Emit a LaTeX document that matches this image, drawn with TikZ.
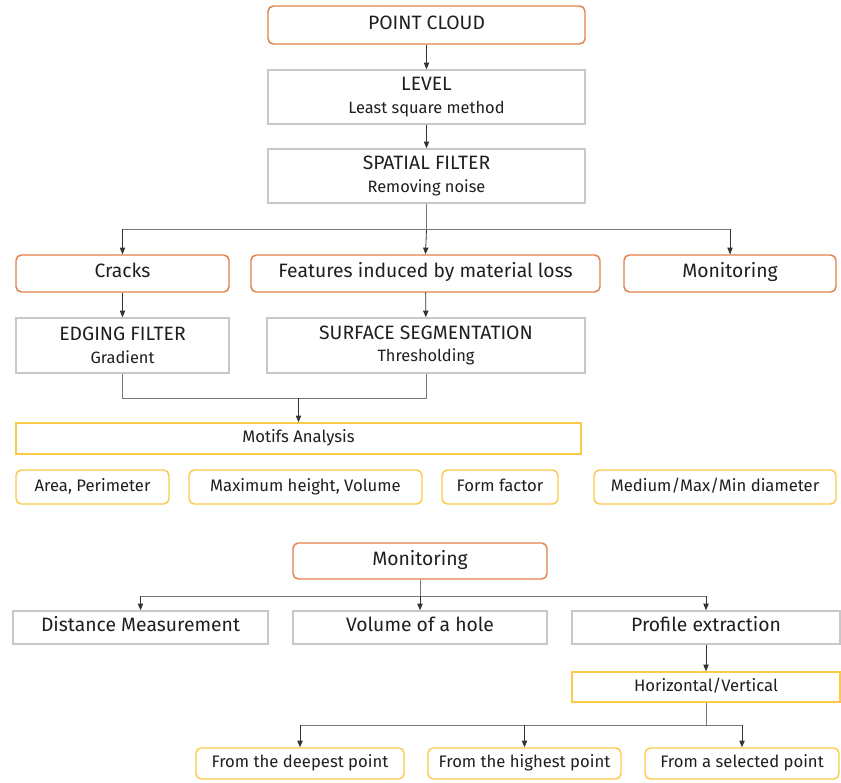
\documentclass[tikz,border=0pt]{standalone}
\usepackage{fontspec}
\setmainfont{Fira Sans}
\usetikzlibrary{arrows.meta}
\definecolor{boxorange}{RGB}{226,128,72}
\definecolor{boxyellow}{RGB}{250,202,72}
\definecolor{boxgray}{RGB}{200,200,200}
\definecolor{linegray}{RGB}{120,120,120}
\newcommand{\subline}[1]{{\fontsize{12.3}{14}\selectfont #1}}

\begin{document}
\begin{tikzpicture}[x=0.75pt,y=0.75pt,yscale=-1,xscale=1,
	oneline/.style={text height=0.72em,text depth=0.1em},
	orangebox/.style={draw=boxorange,line width=1.1pt,rounded corners=4pt,inner sep=0.75pt,oneline,text=black!88,font=\fontsize{14.5}{16}\selectfont},
	graybox/.style={draw=boxgray,line width=1.1pt,inner sep=0.75pt,align=center,text=black!88,font=\fontsize{14.5}{16}\selectfont},
	grayline/.style={draw=boxgray,line width=1.1pt,inner sep=0.75pt,oneline,text=black!88,font=\fontsize{14.5}{16}\selectfont},
	yellowbox/.style={draw=boxyellow,line width=1.1pt,inner sep=0.75pt,oneline,text=black!88,font=\fontsize{12.5}{14}\selectfont},
	yellowround/.style={yellowbox,rounded corners=4pt},
	link/.style={draw=black!80,line width=0.6pt,-{Triangle[length=5pt,width=4pt]}},
	wire/.style={draw=linegray,line width=0.6pt}]
	%uncomment if require: \path (0,782); %set diagram left start at 0, and has height of 782
	\useasboundingbox (0,0) rectangle (841,782);
	
	%Shape: top chain
	\node[orangebox,minimum width=237.75pt,minimum height=28.5pt] (cloud) at (426.5,25) {POINT CLOUD};
	\node[graybox,minimum width=237.75pt,minimum height=40.5pt] (level) at (426.5,97) {LEVEL\\[1pt]\subline{Least square method}};
	\node[graybox,minimum width=237.75pt,minimum height=40.5pt] (spatial) at (426.5,176) {SPATIAL FILTER\\[1pt]\subline{Removing noise}};
	
	%Shape: three branches
	\node[orangebox,minimum width=159.75pt,minimum height=27.75pt] (cracks) at (122.5,273.5) {Cracks};
	\node[orangebox,minimum width=261.75pt,minimum height=27.75pt] (features) at (425.5,273.5) {Features induced by material loss};
	\node[orangebox,minimum width=159pt,minimum height=27.75pt] (monitor) at (730,273.5) {Monitoring};
	
	\node[graybox,minimum width=159.75pt,minimum height=41.25pt] (edging) at (122.5,345.5) {EDGING FILTER\\[1pt]\subline{Gradient}};
	\node[graybox,minimum width=238.5pt,minimum height=41.25pt] (surface) at (426,345.5) {SURFACE SEGMENTATION\\[1pt]\subline{Thresholding}};
	
	%Shape: motifs
	\node[yellowbox,minimum width=423.75pt,minimum height=23.25pt] (motifs) at (298.5,438.5) {Motifs Analysis};
	\node[yellowround,minimum width=114.75pt,minimum height=25.5pt] (area) at (92.5,487) {Area, Perimeter};
	\node[yellowround,minimum width=174.75pt,minimum height=25.5pt] (maxh) at (305.5,487) {Maximum height, Volume};
	\node[yellowround,minimum width=87pt,minimum height=25.5pt] (form) at (500,487) {Form factor};
	\node[yellowround,minimum width=181.5pt,minimum height=25.5pt] (diam) at (715,487) {Medium/Max/Min diameter};
	
	%Shape: monitoring tree
	\node[orangebox,minimum width=190.5pt,minimum height=27pt] (monitor2) at (420,561) {Monitoring};
	\node[grayline,minimum width=191.25pt,minimum height=24.75pt] (distance) at (140.5,627.5) {Distance Measurement};
	\node[grayline,minimum width=190.5pt,minimum height=24.75pt] (volume) at (420,627.5) {Volume of a hole};
	\node[grayline,minimum width=201pt,minimum height=24.75pt] (profile) at (706,627.5) {Profile extraction};
	\node[yellowbox,minimum width=201pt,minimum height=22.5pt] (hv) at (706,687) {Horizontal/Vertical};
	
	\node[yellowround,minimum width=156pt,minimum height=23.25pt] (deepest) at (300,763.5) {From the deepest point};
	\node[yellowround,minimum width=144.75pt,minimum height=23.25pt] (highest) at (524.5,763.5) {From the highest point};
	\node[yellowround,minimum width=145.5pt,minimum height=23.25pt] (selected) at (742,763.5) {From a selected point};
	
	%Straight Lines
	\coordinate (split) at (426.5,229);
	\coordinate (merge) at (298.5,398);
	\coordinate (split2) at (420,596);
	\coordinate (split3) at (706,725);
	
	\draw[link] (cloud) -- (level);
	\draw[link] (level) -- (spatial);
	\draw[wire] (spatial.south) -- (split);
	\draw[link] (split) -- (features.north);
	\draw[wire] (split) -| (cracks.north);
	\draw[link] (cracks.north |- split) -- (cracks.north);
	\draw[wire] (split) -| (monitor.north);
	\draw[link] (monitor.north |- split) -- (monitor.north);
	\draw[link] (cracks) -- (edging);
	\draw[link] (features) -- (surface);
	\draw[wire] (edging.south) |- (merge);
	\draw[wire] (surface.south) |- (merge);
	\draw[link] (merge) -- (motifs.north);
	
	\draw[wire] (monitor2.south) -- (split2);
	\draw[wire] (distance.north |- split2) -- (profile.north |- split2);
	\draw[link] (distance.north |- split2) -- (distance.north);
	\draw[link] (split2) -- (volume.north);
	\draw[link] (profile.north |- split2) -- (profile.north);
	\draw[link] (profile) -- (hv);
	\draw[wire] (hv.south) -- (split3);
	\draw[wire] (deepest.north |- split3) -- (selected.north |- split3);
	\draw[link] (deepest.north |- split3) -- (deepest.north);
	\draw[link] (highest.north |- split3) -- (highest.north);
	\draw[link] (selected.north |- split3) -- (selected.north);
	
\end{tikzpicture}
\end{document}
